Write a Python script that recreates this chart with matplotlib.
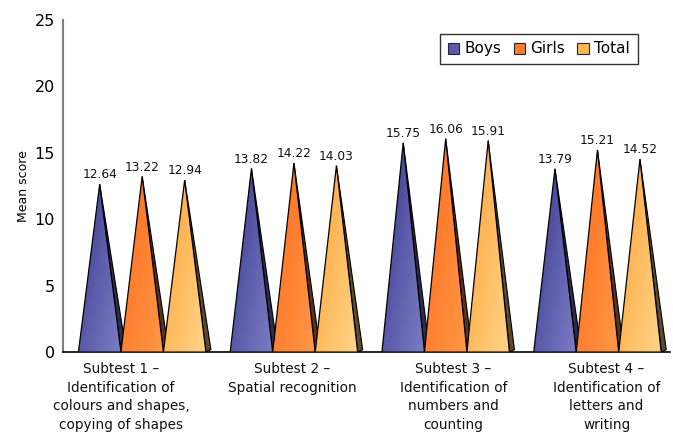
import numpy as np
import matplotlib
matplotlib.use("Agg")
import matplotlib.pyplot as plt
from matplotlib.colors import LinearSegmentedColormap
from matplotlib.patches import Polygon, Patch
from matplotlib.transforms import blended_transform_factory

plt.rcParams['font.family'] = ['DejaVu Sans']

categories = [
    "Subtest 1 \u2013\nIdentification of\ncolours and shapes,\ncopying of shapes",
    "Subtest 2 \u2013\nSpatial recognition",
    "Subtest 3 \u2013\nIdentification of\nnumbers and\ncounting",
    "Subtest 4 \u2013\nIdentification of\nletters and\nwriting",
]
series = ["Boys", "Girls", "Total"]
boys = [12.64, 13.82, 15.75, 13.79]
girls = [13.22, 14.22, 16.06, 15.21]
total = [12.94, 14.03, 15.91, 14.52]
values = [boys, girls, total]

# gradient colours (dark -> light), shadow colour, legend colour per series
grad = {
    "Boys": ["#34347e", "#5c5cac", "#7c7cc4"],
    "Girls": ["#ff6a1c", "#ff8232", "#ff9848"],
    "Total": ["#ffa03a", "#ffbc60", "#ffd488"],
}
shadow = {"Boys": "#2c2c4c", "Girls": "#5a3418", "Total": "#5c4a2c"}
legend_col = {"Boys": "#5a5aa8", "Girls": "#ff7a2a", "Total": "#ffb850"}

fig = plt.figure(figsize=(6.73, 4.32), dpi=100)
ax = fig.add_axes([0.094, 0.185, 0.902, 0.769])
ax.set_xlim(-0.52, 3.48)
ax.set_ylim(0, 25)

width = 0.28
offsets = [-width, 0.0, width]
sdx, sdy = 0.033, 0.18

# gradient image: darker toward the upper left, lighter toward the lower right
gx = np.linspace(0, 1, 60)
gy = np.linspace(0, 1, 120)
GX, GY = np.meshgrid(gx, gy)
G = 0.55 * GX + 0.45 * (1 - GY)

for s, name in enumerate(series):
    cmap = LinearSegmentedColormap.from_list(name, grad[name])
    for i, v in enumerate(values[s]):
        xc = i + offsets[s]
        xl, xr = xc - width / 2, xc + width / 2
        # side face
        sh = Polygon([(xc, v), (xr, 0), (xr + sdx, sdy)], closed=True,
                     facecolor=shadow[name], edgecolor="black", lw=0.8,
                     zorder=2 + s * 2)
        ax.add_patch(sh)
        # front face with gradient
        tri = Polygon([(xl, 0), (xc, v), (xr, 0)], closed=True,
                      facecolor="none", edgecolor="black", lw=0.9,
                      zorder=3.1 + s * 2)
        ax.add_patch(tri)
        im = ax.imshow(G, cmap=cmap, extent=[xl, xr, 0, v], origin="lower",
                       aspect="auto", zorder=3 + s * 2, interpolation="bilinear")
        im.set_clip_path(tri)
        ax.text(xc, v + 0.2, f"{v:.2f}", ha="center", va="bottom",
                fontsize=8.8, color="#111111", zorder=10)

ax.set_aspect("auto")
ax.set_xlim(-0.52, 3.48)
ax.set_ylim(0, 25)

ax.set_yticks([0, 5, 10, 15, 20, 25])
ax.tick_params(axis="y", length=0, pad=6, labelsize=11.5)
ax.set_xticks([])
for sp in ["top", "right"]:
    ax.spines[sp].set_visible(False)
ax.spines["left"].set_color("#808080")
ax.spines["left"].set_linewidth(1.5)
ax.spines["bottom"].set_color("black")
ax.spines["bottom"].set_linewidth(1.2)
ax.set_ylabel("Mean score", fontsize=9, labelpad=3)

label_x = [-0.14, -0.01, 0.05, 0.06]
trans = blended_transform_factory(ax.transData, ax.transAxes)
for i, lab in enumerate(categories):
    ax.text(i + label_x[i], -0.03, lab, transform=trans, ha="center",
            va="top", fontsize=9.8, linespacing=1.42, color="#111111")

handles = [Patch(facecolor=legend_col[n], edgecolor="#222244", lw=0.8, label=n)
           for n in series]
leg = ax.legend(handles=handles, loc="upper right", bbox_to_anchor=(0.946, 0.958),
                ncol=3, fontsize=11, frameon=True, fancybox=False,
                handlelength=0.75, handleheight=0.75, handletextpad=0.35,
                columnspacing=0.8, borderpad=0.5, borderaxespad=0)
leg.get_frame().set_edgecolor("black")
leg.get_frame().set_linewidth(1.0)

fig.savefig("out.png", dpi=100)
